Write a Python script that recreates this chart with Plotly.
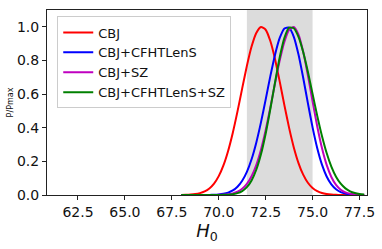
import plotly.graph_objects as go

# H0 grid (km/s/Mpc)
h0 = [68.0, 68.25, 68.5, 68.75, 69.0, 69.25, 69.5, 69.75, 70.0, 70.25,
      70.5, 70.75, 71.0, 71.25, 71.5, 71.75, 72.0, 72.25, 72.5, 72.75,
      73.0, 73.25, 73.5, 73.75, 74.0, 74.25, 74.5, 74.75, 75.0, 75.25,
      75.5, 75.75, 76.0, 76.25, 76.5, 76.75, 77.0, 77.25, 77.5, 77.75]

cbj = [0.0005, 0.0011, 0.0026, 0.0055, 0.0111, 0.0214, 0.0392, 0.0681, 0.1124, 0.1761,
       0.2621, 0.3706, 0.4974, 0.6341, 0.7676, 0.8825, 0.9635, 0.999, 0.9827, 0.9154,
       0.8074, 0.6742, 0.5332, 0.3992, 0.2831, 0.19, 0.1208, 0.0727, 0.0414, 0.0224,
       0.0114, 0.0055, 0.0025, 0.0011, 0.0005, 0.0002, 0.0001, 0.0, 0.0, 0.0]

cbj_cfht = [0.0, 0.0, 0.0, 0.0, 0.0001, 0.0003, 0.0006, 0.0015, 0.0033, 0.0071,
            0.0142, 0.0272, 0.0493, 0.0847, 0.1379, 0.2127, 0.3113, 0.4316, 0.5673, 0.7066,
            0.8344, 0.9337, 0.9904, 0.995, 0.9406, 0.8353, 0.6968, 0.5461, 0.402, 0.278,
            0.1806, 0.1103, 0.0632, 0.034, 0.0172, 0.0082, 0.0037, 0.0015, 0.0006, 0.0002]

cbj_sz = [0.0, 0.0, 0.0, 0.0, 0.0, 0.0, 0.0001, 0.0003, 0.0009, 0.002,
          0.0045, 0.0096, 0.0193, 0.0367, 0.0657, 0.1114, 0.1783, 0.2697, 0.3854, 0.5204,
          0.6641, 0.8007, 0.9123, 0.982, 0.9987, 0.9533, 0.8515, 0.7117, 0.5566, 0.4073,
          0.279, 0.1788, 0.1072, 0.0601, 0.0316, 0.0155, 0.0071, 0.0031, 0.0012, 0.0005]

cbj_cfht_sz = [0.0, 0.0, 0.0, 0.0, 0.0, 0.0, 0.0, 0.0001, 0.0003, 0.0008,
               0.002, 0.0049, 0.0111, 0.0236, 0.0469, 0.0869, 0.1502, 0.2421, 0.3644, 0.5115,
               0.6701, 0.8192, 0.9344, 0.9945, 0.9914, 0.9403, 0.8499, 0.7323, 0.6012, 0.4704,
               0.3508, 0.2494, 0.1689, 0.109, 0.0671, 0.0393, 0.022, 0.0117, 0.0059, 0.0029]

series_names = ["CBJ", "CBJ+CFHTLenS", "CBJ+SZ", "CBJ+CFHTLenS+SZ"]
series_values = [cbj, cbj_cfht, cbj_sz, cbj_cfht_sz]
series_colors = ["#ff0000", "#0000ff", "#bf00bf", "#008000"]

band_lo, band_hi = 71.5, 75.0

x_ticks = [62.5, 65.0, 67.5, 70.0, 72.5, 75.0, 77.5]
y_ticks = [0.0, 0.2, 0.4, 0.6, 0.8, 1.0]

fig = go.Figure()
for name, vals, col in zip(series_names, series_values, series_colors):
    fig.add_trace(go.Scatter(x=h0, y=vals, mode="lines", name=name,
                             line=dict(color=col, width=2, shape="spline", smoothing=0.6)))

fig.add_vrect(x0=band_lo, x1=band_hi, fillcolor="#dcdcdc", line_width=0, layer="below")

axis_common = dict(showline=True, linecolor="#222", linewidth=1, mirror=True,
                   ticks="outside", ticklen=4, tickwidth=1, tickcolor="#222",
                   showgrid=False, zeroline=False, automargin=False,
                   tickfont=dict(family="DejaVu Sans", size=14, color="#111"))

fig.update_xaxes(range=[60.85, 77.9], tickvals=x_ticks,
                 ticktext=[f"{v:.1f}" for v in x_ticks],
                 title=dict(text="<i>H</i><sub>0</sub>", standoff=1,
                            font=dict(family="DejaVu Sans", size=18, color="#111")),
                 **axis_common)
fig.update_yaxes(range=[0, 1.1], tickvals=y_ticks,
                 ticktext=[f"{v:.1f}" for v in y_ticks],
                 title=dict(text="P/Pmax", standoff=2,
                            font=dict(family="DejaVu Sans", size=8, color="#111")),
                 **axis_common)

fig.update_layout(
    width=382, height=249,
    margin=dict(l=47, r=15, t=10, b=54, autoexpand=False),
    paper_bgcolor="white", plot_bgcolor="white",
    showlegend=True,
    legend=dict(x=0.032, y=0.965, xanchor="left", yanchor="top",
                bgcolor="rgba(255,255,255,0.85)", bordercolor="#cccccc", borderwidth=1,
                font=dict(family="DejaVu Sans", size=13, color="#111"),
                itemwidth=30, tracegroupgap=0),
)

fig.write_html("out.html", config={"displayModeBar": False},
               post_script="document.body.style.margin='0';document.body.style.padding='0';"
                           "document.body.style.overflow='hidden';")
